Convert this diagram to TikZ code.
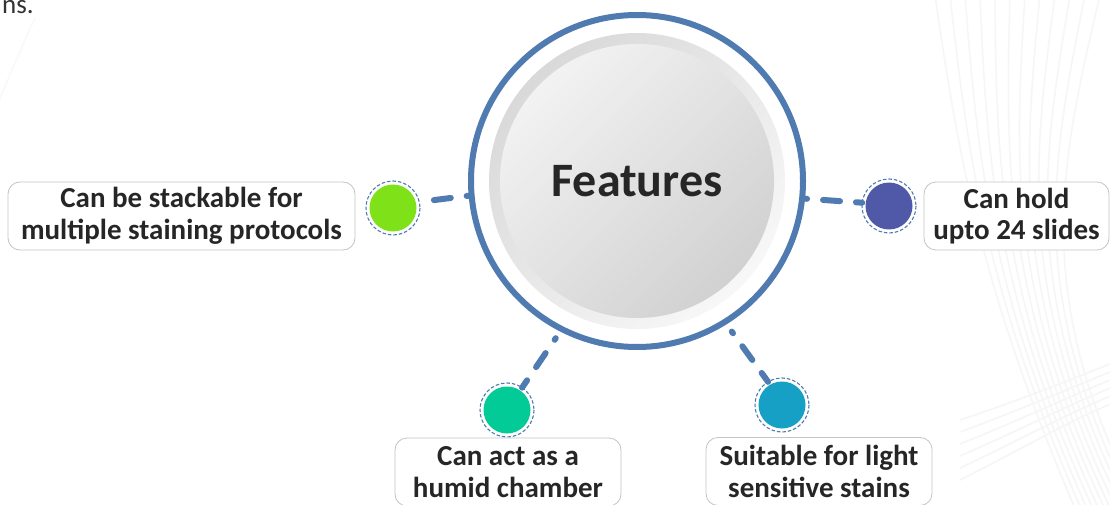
\documentclass[tikz,border=0pt]{standalone}
\usepackage{fontspec}
\setmainfont{Carlito}
\definecolor{hubblue}{HTML}{4F7BB1}
\definecolor{cgreen}{HTML}{7FE219}
\definecolor{cpurple}{HTML}{5058A8}
\definecolor{cteal}{HTML}{03CB98}
\definecolor{cblueteal}{HTML}{16A0C6}
\definecolor{txt}{HTML}{262626}
\definecolor{boxline}{HTML}{C4C4C4}
\begin{document}
\begin{tikzpicture}[x=1pt,y=-1pt,
  hub/.style={circle,draw=hubblue,line width=6pt,minimum size=332pt,inner sep=0pt,
    font=\fontsize{48}{52}\selectfont\bfseries,text=txt},
  dot/.style={circle,fill=#1,draw=none,minimum size=47pt,inner sep=0pt,outer sep=3.5pt},
  ring/.style={draw=hubblue,line width=1.1pt,dash pattern=on 3.5pt off 2pt},
  conn/.style={draw=hubblue,line width=6pt,line cap=round,dash pattern=on 17pt off 16pt,dash phase=15pt},
  infobox/.style={draw=boxline,line width=0.8pt,fill=white,rounded corners=12pt,
    minimum height=68pt,inner sep=0pt,align=center,text=txt,
    font=\fontsize{29}{31.5}\selectfont\bfseries},
  bgline/.style={draw=black!3.5,line width=1.6pt}
]
\useasboundingbox (0,0) rectangle (1110,505);
\fill[white] (0,0) rectangle (1110,505);
% faint background curves
\foreach \i in {0,...,11}{
  \draw[bgline] (935+15*\i,-5) .. controls (960+9*\i,170) and (985+4*\i,300) .. (1080+6*\i,520);
}
\foreach \i in {0,...,5}{
  \draw[bgline] (960,420+12*\i) .. controls (1020,400+10*\i) and (1070,380+8*\i) .. (1120,360+8*\i);
}
\draw[draw=black!2.5,line width=1.6pt] (35,18) .. controls (20,50) and (8,80) .. (-5,110);
% top-left fragment
\node[anchor=base west,inner sep=0pt,text=black!80,font=\fontsize{27}{31}\selectfont] (frag) at (2,14) {ns.};
% hub shading
\shade[shading=axis,top color=black!15,bottom color=black!3,shading angle=45] (637,181) circle (148);
\shade[shading=axis,top color=black!5,bottom color=black!18,shading angle=45] (637,181) circle (137);
\node[hub] (hub) at (637,181) {Features};
% small circles
\node[dot=cgreen] (green) at (393,208) {};
\node[dot=cpurple] (purple) at (889,206) {};
\node[dot=cteal] (teal) at (507,410) {};
\node[dot=cblueteal] (blueteal) at (782,405) {};
\draw[ring] (green) circle (27);
\draw[ring] (purple) circle (27);
\draw[ring] (teal) circle (27);
\draw[ring] (blueteal) circle (27);
% connectors
\draw[conn] (hub.185) -- (green.13);
\draw[conn] (hub.-6) -- (purple.173);
\draw[conn,shorten <=8pt] (hub.-117) -- (teal.56);
\draw[conn,shorten <=9pt] (hub.-58.5) -- (blueteal.121);
% text boxes
\node[infobox,minimum width=347pt] (b1) at (181.5,216) {Can be stackable for\\multiple staining protocols};
\node[infobox,minimum width=185pt] (b2) at (1016.5,216) {Can hold\\upto 24 slides};
\node[infobox,minimum width=226pt] (b3) at (508,472) {Can act as a\\humid chamber};
\node[infobox,minimum width=226pt] (b4) at (819,471.5) {Suitable for light\\sensitive stains};
\end{tikzpicture}
\end{document}
